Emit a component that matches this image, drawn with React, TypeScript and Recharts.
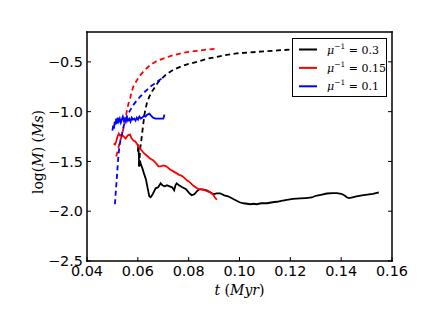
import React from "react";
import { LineChart, Line, XAxis, YAxis, Legend } from "recharts";

// ---- data ----
const xTicks = [0.04, 0.06, 0.08, 0.1, 0.12, 0.14, 0.16];
const yTicks = [-2.5, -2.0, -1.5, -1.0, -0.5];

const blackSolidT = [0.0600, 0.0602, 0.0604, 0.0605, 0.0608, 0.0612, 0.0618, 0.0624, 0.0632, 0.0638, 0.0645, 0.0650, 0.0656, 0.0662, 0.0670, 0.0680, 0.0690, 0.0697, 0.0705, 0.0715, 0.0725, 0.0735, 0.0743, 0.0748, 0.0753, 0.0762, 0.0775, 0.0790, 0.0803, 0.0812, 0.0822, 0.0832, 0.0842, 0.0855, 0.0871, 0.0885, 0.0897, 0.0910, 0.0924, 0.0940, 0.0955, 0.0970, 0.0985, 0.1000, 0.1016, 0.1030, 0.1042, 0.1055, 0.1068, 0.1085, 0.1108, 0.1130, 0.1147, 0.1165, 0.1186, 0.1210, 0.1239, 0.1260, 0.1285, 0.1300, 0.1320, 0.1344, 0.1365, 0.1383, 0.1400, 0.1412, 0.1422, 0.1430, 0.1445, 0.1460, 0.1488, 0.1510, 0.1525, 0.1540, 0.1548];
const blackSolidV = [-1.40, -1.33, -1.44, -1.55, -1.49, -1.53, -1.57, -1.62, -1.68, -1.76, -1.85, -1.86, -1.84, -1.81, -1.77, -1.76, -1.72, -1.74, -1.75, -1.74, -1.75, -1.76, -1.79, -1.74, -1.72, -1.74, -1.76, -1.78, -1.82, -1.84, -1.83, -1.80, -1.78, -1.78, -1.79, -1.81, -1.83, -1.82, -1.82, -1.84, -1.85, -1.87, -1.89, -1.91, -1.92, -1.925, -1.93, -1.925, -1.93, -1.92, -1.92, -1.91, -1.905, -1.895, -1.885, -1.877, -1.872, -1.868, -1.862, -1.845, -1.835, -1.822, -1.818, -1.818, -1.825, -1.84, -1.86, -1.868, -1.86, -1.852, -1.838, -1.83, -1.825, -1.815, -1.812];

const blackDashT = [0.0605, 0.0609, 0.0615, 0.0622, 0.0628, 0.0635, 0.0645, 0.0655, 0.0668, 0.0681, 0.0697, 0.0714, 0.0740, 0.0766, 0.0800, 0.0832, 0.0870, 0.0911, 0.0950, 0.0989, 0.1040, 0.1094, 0.1150, 0.1206, 0.1280, 0.1360, 0.1450, 0.1548];
const blackDashV = [-1.55, -1.38, -1.26, -1.11, -1.00, -0.92, -0.85, -0.80, -0.75, -0.70, -0.66, -0.62, -0.58, -0.55, -0.52, -0.50, -0.47, -0.45, -0.43, -0.415, -0.405, -0.395, -0.385, -0.376, -0.365, -0.355, -0.345, -0.335];

const redSolidT = [0.0505, 0.0510, 0.0515, 0.0520, 0.0525, 0.0530, 0.0537, 0.0545, 0.0552, 0.0560, 0.0569, 0.0576, 0.0583, 0.0590, 0.0598, 0.0605, 0.0615, 0.0625, 0.0635, 0.0648, 0.0661, 0.0672, 0.0681, 0.0690, 0.0700, 0.0712, 0.0727, 0.0740, 0.0753, 0.0763, 0.0773, 0.0785, 0.0793, 0.0805, 0.0819, 0.0830, 0.0838, 0.0850, 0.0865, 0.0884, 0.0895, 0.0904, 0.0911];
const redSolidV = [-1.32, -1.33, -1.30, -1.25, -1.22, -1.24, -1.23, -1.25, -1.27, -1.24, -1.23, -1.27, -1.29, -1.30, -1.33, -1.36, -1.39, -1.42, -1.44, -1.47, -1.49, -1.52, -1.55, -1.55, -1.54, -1.55, -1.58, -1.60, -1.62, -1.635, -1.645, -1.67, -1.69, -1.71, -1.745, -1.765, -1.777, -1.78, -1.79, -1.81, -1.83, -1.865, -1.885];

const redDashT = [0.0515, 0.0522, 0.0530, 0.0537, 0.0543, 0.0550, 0.0556, 0.0563, 0.0570, 0.0576, 0.0582, 0.0595, 0.0609, 0.0628, 0.0648, 0.0672, 0.0700, 0.0730, 0.0766, 0.0800, 0.0832, 0.0870, 0.0911];
const redDashV = [-1.45, -1.38, -1.30, -1.24, -1.17, -1.09, -1.005, -0.92, -0.86, -0.80, -0.75, -0.69, -0.635, -0.58, -0.534, -0.495, -0.467, -0.44, -0.416, -0.40, -0.39, -0.377, -0.367];

const blueSolidT = [0.0500, 0.0503, 0.0506, 0.0509, 0.0512, 0.0515, 0.0518, 0.0521, 0.0525, 0.0529, 0.0533, 0.0537, 0.0541, 0.0545, 0.0549, 0.0553, 0.0557, 0.0561, 0.0566, 0.0571, 0.0576, 0.0581, 0.0586, 0.0591, 0.0596, 0.0601, 0.0606, 0.0612, 0.0618, 0.0624, 0.0630, 0.0637, 0.0645, 0.0652, 0.0660, 0.0670, 0.0680, 0.0690, 0.0700, 0.0703, 0.0704];
const blueSolidV = [-1.19, -1.14, -1.17, -1.10, -1.13, -1.07, -1.12, -1.06, -1.10, -1.07, -1.11, -1.08, -1.05, -1.09, -1.07, -1.10, -1.06, -1.09, -1.07, -1.10, -1.06, -1.08, -1.07, -1.09, -1.06, -1.08, -1.05, -1.07, -1.06, -1.04, -1.05, -1.03, -1.02, -1.04, -1.06, -1.07, -1.07, -1.07, -1.07, -1.05, -1.03];

const blueDashT = [0.0510, 0.0512, 0.0514, 0.0517, 0.0520, 0.0523, 0.0527, 0.0532, 0.0538, 0.0543, 0.0550, 0.0560, 0.0569, 0.0580, 0.0595, 0.0609, 0.0628, 0.0648, 0.0665, 0.0681, 0.0695, 0.0707];
const blueDashV = [-1.93, -1.85, -1.78, -1.68, -1.57, -1.46, -1.36, -1.28, -1.22, -1.16, -1.09, -1.03, -0.99, -0.94, -0.89, -0.85, -0.80, -0.75, -0.72, -0.69, -0.665, -0.645];

const legendLabels = ["0.3", "0.15", "0.1"];
const seriesColors = ["#000000", "#ff0000", "#0000ff"];

const toRows = (t: number[], v: number[]) => t.map((x, i) => ({ t: x, v: v[i] }));

const blackSolid = toRows(blackSolidT, blackSolidV);
const blackDash = toRows(blackDashT, blackDashV);
const redSolid = toRows(redSolidT, redSolidV);
const redDash = toRows(redDashT, redDashV);
const blueSolid = toRows(blueSolidT, blueSolidV);
const blueDash = toRows(blueDashT, blueDashV);

const tickFont = { fontSize: 14.4, fontFamily: "DejaVu Sans", fill: "#000" };
const frame = { stroke: "#000", strokeWidth: 1.5, strokeLinecap: "square" as const };
const tickLn = { stroke: "#000", strokeWidth: 1 };
const fmtY = (v: number) => v.toFixed(1).replace("-", "\u2212");
const fmtX = (v: number) => v.toFixed(2);
const NoTick = () => <g />;

const LegendBox = () => (
  <div style={{ width: 95, height: 59, border: "1px solid #000", background: "#fff", boxSizing: "border-box" }}>
    <svg width={93} height={57} style={{ display: "block" }}>
      {legendLabels.map((lab, i) => {
        const y = 10.5 + i * 18.4;
        return (
          <g key={lab}>
            <line x1={6} x2={24} y1={y} y2={y} stroke={seriesColors[i]} strokeWidth={2} />
            <text x={34} y={y + 4} fontFamily="DejaVu Serif" fontSize={11} fill="#000">
              <tspan fontStyle="italic">μ</tspan>
              <tspan fontSize={7.5} dy={-5}>−1</tspan>
              <tspan dy={5}> = {lab}</tspan>
            </text>
          </g>
        );
      })}
    </svg>
  </div>
);

export default function App() {
  return (
    <div style={{ position: "absolute", left: 0, top: 0, width: 436, height: 327, background: "#fff" }}>
      <LineChart width={436} height={327} margin={{ top: 22, right: 34, bottom: 36, left: 27 }}>
        <XAxis xAxisId="b" type="number" dataKey="t" domain={[0.04, 0.16]} ticks={xTicks} tickFormatter={fmtX}
          height={30} tickSize={-4} tickMargin={9} axisLine={frame} tickLine={tickLn} tick={tickFont}
          allowDataOverflow interval={0} />
        <XAxis xAxisId="top" orientation="top" type="number" domain={[0.04, 0.16]} ticks={xTicks}
          height={10} tickSize={-4} axisLine={frame} tickLine={tickLn} tick={NoTick} allowDataOverflow interval={0} />
        <YAxis yAxisId="l" type="number" domain={[-2.5, -0.2]} ticks={yTicks} tickFormatter={fmtY}
          width={60} tickSize={-4} tickMargin={8} axisLine={frame} tickLine={tickLn} tick={tickFont}
          allowDataOverflow interval={0} />
        <YAxis yAxisId="r" orientation="right" type="number" domain={[-2.5, -0.2]} ticks={yTicks}
          width={10} tickSize={-4} axisLine={frame} tickLine={tickLn} tick={NoTick} allowDataOverflow interval={0} />
        <Line xAxisId="b" yAxisId="l" data={blackSolid} dataKey="v" stroke="#000000" strokeWidth={1.8} dot={false} isAnimationActive={false} type="linear" />
        <Line xAxisId="b" yAxisId="l" data={blackDash} dataKey="v" stroke="#000000" strokeWidth={1.8} strokeDasharray="5 3.5" dot={false} isAnimationActive={false} type="linear" legendType="none" />
        <Line xAxisId="b" yAxisId="l" data={redSolid} dataKey="v" stroke="#ff0000" strokeWidth={1.8} dot={false} isAnimationActive={false} type="linear" />
        <Line xAxisId="b" yAxisId="l" data={redDash} dataKey="v" stroke="#ff0000" strokeWidth={1.8} strokeDasharray="5 3.5" dot={false} isAnimationActive={false} type="linear" legendType="none" />
        <Line xAxisId="b" yAxisId="l" data={blueSolid} dataKey="v" stroke="#0000ff" strokeWidth={1.8} dot={false} isAnimationActive={false} type="linear" />
        <Line xAxisId="b" yAxisId="l" data={blueDash} dataKey="v" stroke="#0000ff" strokeWidth={1.8} strokeDasharray="5 3.5" dot={false} isAnimationActive={false} type="linear" legendType="none" />
        <Legend layout="vertical" align="center" verticalAlign="middle" content={<LegendBox />}
          wrapperStyle={{ position: "absolute", left: 291.5, top: 38, width: 95, height: 59 }} />
      </LineChart>
      <svg width={436} height={327} style={{ position: "absolute", left: 0, top: 0, pointerEvents: "none" }}>
        <text x={239.5} y={294.7} textAnchor="middle" fontFamily="DejaVu Serif" fontSize={14} fill="#000">
          <tspan fontStyle="italic">t</tspan>
          <tspan> (</tspan>
          <tspan fontStyle="italic">Myr</tspan>
          <tspan>)</tspan>
        </text>
        <text x={38} y={152} transform="rotate(-90, 38, 152)" textAnchor="middle" dominantBaseline="central"
          fontFamily="DejaVu Serif" fontSize={14} fill="#000">
          <tspan>log(</tspan>
          <tspan fontStyle="italic">M</tspan>
          <tspan>) (</tspan>
          <tspan fontStyle="italic">Ms</tspan>
          <tspan>)</tspan>
        </text>
      </svg>
    </div>
  );
}
